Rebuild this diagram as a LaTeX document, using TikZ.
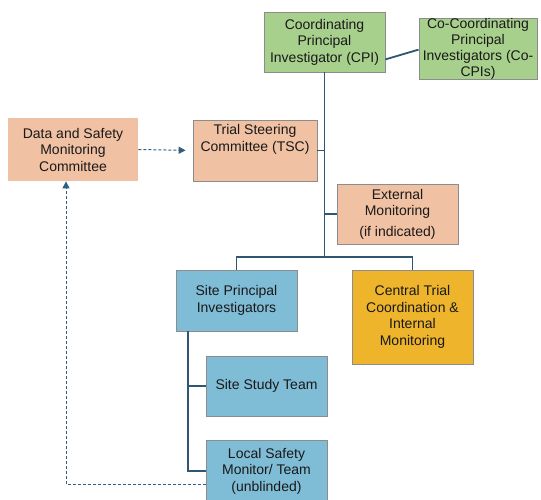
\documentclass[tikz,border=0pt]{standalone}
\usepackage{fontspec}
\setmainfont{Liberation Sans}
\usetikzlibrary{calc,arrows.meta}
\definecolor{cgreen}{HTML}{A8D08D}
\definecolor{csalmon}{HTML}{F1C1A3}
\definecolor{cblue}{HTML}{7FBCD6}
\definecolor{cgold}{HTML}{EDB42C}
\definecolor{cline}{HTML}{2F5672}
\definecolor{cdash}{HTML}{2F5F80}
\definecolor{cborder}{HTML}{8C8C8C}
\tikzset{
  box/.style={draw=cborder, line width=0.8pt, minimum width=#1, inner sep=0pt, align=center, font=\fontsize{14}{16.5}\selectfont, text=black!90},
  box/.default=121pt,
  txt/.style={inner sep=0pt, align=center, font=\fontsize{14}{16.5}\selectfont, text=black!90},
  conn/.style={draw=cline, line width=1.8pt},
  dashconn/.style={draw=cdash, line width=1pt, dash pattern=on 3pt off 2pt},
}
\begin{document}
\begin{tikzpicture}[x=1pt,y=-1pt]
\useasboundingbox (0,0) rectangle (541,500);
% nodes
\node[box, fill=cgreen, minimum height=60pt] (cpi) at (324.5,42) {Coordinating\\Principal\\Investigator (CPI)};
\node[box=118pt, fill=cgreen, minimum height=60pt, font=\fontsize{14}{15.8}\selectfont] (coc) at (478,49) {Co-Coordinating\\Principal\\Investigators (Co-\\CPIs)};
\node[box=130pt, fill=csalmon, draw=none, minimum height=63pt] (dsmc) at (73,149.5) {Data and Safety\\Monitoring\\Committee};
\node[box=124pt, fill=csalmon, minimum height=61pt] (tsc) at (255,150.5) {};
\node[txt, anchor=north] (tsctxt) at ($(tsc.north)+(0,5)$) {Trial Steering\\Committee (TSC)};
\node[box, fill=csalmon, minimum height=60pt] (ext) at (397.5,214) {External\\Monitoring\\[4pt](if indicated)};
\node[box, fill=cblue, minimum height=61pt] (sitepi) at (236.5,300.5) {Site Principal\\Investigators};
\node[box, fill=cgold, minimum height=94pt] (central) at (412.5,317) {Central Trial\\Coordination \&\\Internal\\Monitoring};
\node[box, fill=cblue, minimum height=60pt] (sst) at (266.5,386) {Site Study Team};
\node[box, fill=cblue, minimum height=61pt] (lsm) at (266.5,471) {Local Safety\\Monitor/ Team\\(unblinded)};
% connectors
\draw[conn] ($(cpi.south east)+(0,-13)$) -- ($(coc.south west)+(0,-30)$);
\coordinate (hub) at (cpi.south |- 0,257);
\draw[conn] (cpi.south) -- (hub);
\draw[conn] (tsc.east) -- (tsc.east -| cpi.south);
\draw[conn] (ext.west) -- (ext.west -| cpi.south);
\coordinate (bl) at (sitepi.north |- hub);
\coordinate (br) at (central.north |- hub);
\draw[conn] (sitepi.north) -- (bl) -- (br) -- (central.north);
\coordinate (stop) at (188,0);
\coordinate (s1) at (stop |- sitepi.south);
\coordinate (s2) at (stop |- lsm.west);
\draw[conn] (s1) -- (s2) -- (lsm.west);
\draw[conn] (stop |- sst.west) -- (sst.west);
% dashed
\draw[dashconn, -{Triangle[length=7pt,width=7pt]}, shorten >=7pt] (dsmc.east) -- (tsc.west);
\coordinate (d1) at ($(lsm.west)+(0,13)$);
\coordinate (d2) at (66,484);
\draw[dashconn, -{Triangle[length=7pt,width=7pt]}] (d1) -- (d2) -- (d2 |- dsmc.south);
\end{tikzpicture}
\end{document}
